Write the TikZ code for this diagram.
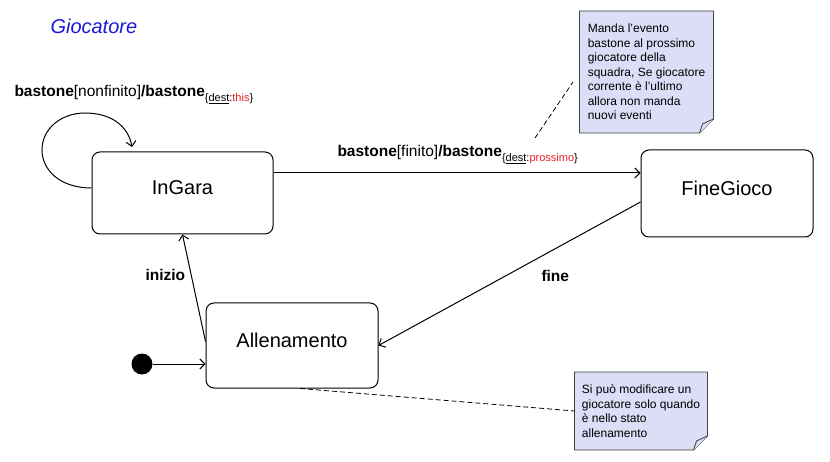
\documentclass[tikz,border=0pt]{standalone}
\usepackage{fontspec}
\setmainfont{Liberation Sans}
\usepackage{tikz}
\usetikzlibrary{arrows.meta, backgrounds}
\definecolor{notafill}{RGB}{220,221,246}
\definecolor{titleblue}{RGB}{25,25,215}
\definecolor{destred}{RGB}{230,30,35}
\newcommand{\destsub}[1]{\raisebox{-5pt}{\fontsize{11}{13}\selectfont\{\underline{dest}:\textcolor{destred}{#1}\}}}

\begin{document}
\begin{tikzpicture}[x=1pt, y=-1pt, line width=1pt,
 stato/.style={draw, rounded corners=8pt, text depth=10pt, font=\fontsize{20}{24}\selectfont},
 freccia/.style={-{Straight Barb[length=5pt,width=10pt]}},
 etichetta/.style={anchor=base west, inner sep=0pt, font=\fontsize{15.5}{18}\selectfont},
 nota/.style={align=left, font=\fontsize{12}{14.5}\selectfont},
 notabox/.style={draw=black!75, fill=notafill, line width=0.8pt},
 tratteggio/.style={dash pattern=on 5pt off 3pt, line width=0.8pt}]
 \useasboundingbox (0,0) rectangle (830,462);
 \node[anchor=base west, inner sep=0pt, text=titleblue, font=\fontsize{20}{24}\selectfont\itshape] (titolo) at (50,34) {Giocatore};
%
 \node[stato, minimum width=181pt, minimum height=82pt] (ingara) at (182.5,193) {InGara};
 \node[stato, minimum width=172pt, minimum height=87pt] (finegioco) at (727,193.5) {FineGioco};
 \node[stato, minimum width=172pt, minimum height=85pt] (allenamento) at (292,345.5) {Allenamento};
 \node[circle, fill=black, minimum size=21pt, inner sep=0pt] (avvio) at (142,364) {};
%
 \coordinate (ciclo) at (132,147);
 \draw[freccia] ([yshift=5pt]ingara.west) .. controls (60,188) and (42,170) .. (42,150) .. controls (42,128) and (62,113) .. (85,113) .. controls (110,113) and (128,125) .. (ciclo);
 \draw[freccia] ([yshift=20pt]ingara.east) -- ([yshift=20.5pt]finegioco.west);
 \draw[freccia] ([yshift=-8.5pt]finegioco.west) -- (allenamento.east);
 \draw[freccia] ([yshift=4pt]allenamento.west) -- (ingara.south);
 \draw[freccia] (avvio) -- (avvio -| allenamento.west);
%
 \node[etichetta] (labciclo) at (14,97) {\textbf{bastone}[nonfinito]\textbf{/bastone}\destsub{this}};
 \node[etichetta] (labfinito) at (337,157) {\textbf{bastone}[finito]\textbf{/bastone}\destsub{prossimo}};
 \node[etichetta] (labinizio) at (145,281) {\textbf{inizio}};
 \node[etichetta] (labfine) at (541,282) {\textbf{fine}};
%
 \node[nota, minimum width=133pt, minimum height=121pt] (nota1) at (646.5,72) {Manda l’evento\\ bastone al prossimo\\ giocatore della\\ squadra, Se giocatore\\ corrente è l’ultimo\\ allora non manda\\ nuovi eventi};
 \node[nota, minimum width=132pt, minimum height=77pt] (nota2) at (641,411) {Si può modificare un\\ giocatore solo quando\\ è nello stato\\ allenamento};
 \begin{scope}[on background layer]
  \foreach \n in {nota1,nota2}{
   \draw[notabox] (\n.north west) -- (\n.north east) -- ([yshift=14pt]\n.south east) -- ([xshift=-14pt]\n.south east) -- (\n.south west) -- cycle;
   \draw[notabox] ([yshift=14pt]\n.south east) -- ([xshift=-11pt,yshift=9pt]\n.south east) -- ([xshift=-14pt]\n.south east);
  }
 \end{scope}
%
 \coordinate (d1) at (535,138);
 \coordinate (d2) at (573,82);
 \draw[tratteggio] (d1) -- (d2);
 \draw[tratteggio] ([xshift=8pt]allenamento.south) -- (nota2.west);
\end{tikzpicture}
\end{document}
